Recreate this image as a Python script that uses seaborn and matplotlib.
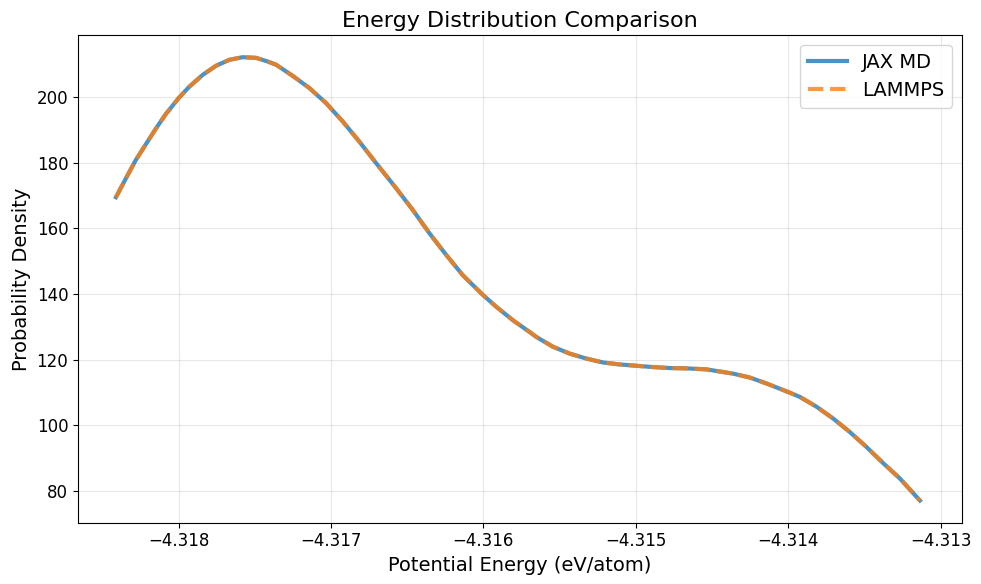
import numpy as np
import pandas as pd
import seaborn as sns
import matplotlib.pyplot as plt

# values
energy = [-4.318411, -4.318345, -4.318280, -4.318214, -4.318148, -4.318083,
          -4.318000, -4.317930, -4.317842, -4.317754, -4.317667, -4.317580,
          -4.317492, -4.317416, -4.317360, -4.317251, -4.317142, -4.317032,
          -4.316923, -4.316813, -4.316704, -4.316572, -4.316463, -4.316354,
          -4.316244, -4.316135, -4.316001, -4.315916, -4.315807, -4.315697,
          -4.315653, -4.315544, -4.315434, -4.315325, -4.315216, -4.315106,
          -4.314999, -4.314887, -4.314778, -4.314668, -4.314537, -4.314362,
          -4.314252, -4.314143, -4.314001, -4.313924, -4.313814, -4.313705,
          -4.313596, -4.313486, -4.313377, -4.313267, -4.313136]
jax_density = [169.5, 175.3, 180.9, 185.7, 190.5, 194.9,
               199.7, 203.2, 206.8, 209.6, 211.4, 212.2,
               212.0, 210.9, 209.9, 206.5, 202.8, 198.2,
               192.6, 186.4, 179.9, 172.2, 165.6, 158.5,
               151.9, 145.7, 139.6, 136.1, 132.0, 128.4,
               126.9, 123.9, 121.8, 120.3, 119.1, 118.5,
               118.1, 117.7, 117.4, 117.3, 117.0, 115.7,
               114.5, 112.7, 110.1, 108.6, 105.6, 102.0,
               97.9, 93.3, 88.4, 83.7, 77.0]
lammps_density = list(jax_density)

df = pd.DataFrame({'energy': energy, 'jax': jax_density, 'lammps': lammps_density})

fig, ax = plt.subplots(figsize=(9.81, 5.84), dpi=100)
fig.subplots_adjust(left=0.0795, right=0.9806, top=0.940, bottom=0.105)

sns.lineplot(data=df, x='energy', y='jax', ax=ax, color='C0', linewidth=3,
             alpha=0.8, label='JAX MD')
sns.lineplot(data=df, x='energy', y='lammps', ax=ax, color='C1', linewidth=3,
             alpha=0.8, linestyle='--', label='LAMMPS')

ax.set_xlim(-4.31866, -4.31286)
ax.set_title('Energy Distribution Comparison', fontsize=16)
ax.set_xlabel('Potential Energy (eV/atom)', fontsize=14)
ax.set_ylabel('Probability Density', fontsize=14)
ax.tick_params(labelsize=12)
ax.grid(True, alpha=0.3)
ax.legend(fontsize=14, loc='upper right')

plt.savefig('out.png', dpi=100)
